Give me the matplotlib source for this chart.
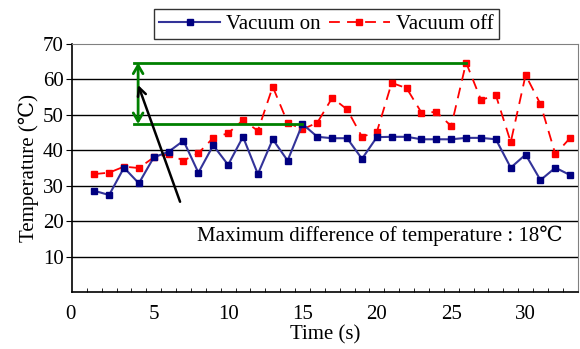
import matplotlib
matplotlib.use("Agg")
import matplotlib.pyplot as plt
import matplotlib.transforms as mtransforms
import numpy as np

plt.rcParams['font.family'] = ['Liberation Serif', 'DejaVu Serif']
plt.rcParams['mathtext.fontset'] = 'stix'

time_s = list(range(1, 34))
vacuum_on = [28.6, 27.4, 35.1, 30.7, 38.0, 39.6, 42.7, 33.7, 41.4, 35.9, 43.8, 33.3,
             43.1, 37.1, 47.4, 43.8, 43.4, 43.4, 37.6, 43.7, 43.8, 43.8, 43.1, 43.1,
             43.1, 43.5, 43.5, 43.1, 35.1, 38.8, 31.6, 35.1, 33.0]
vacuum_off = [33.3, 33.7, 35.4, 35.0, 38.0, 38.9, 37.1, 39.2, 43.5, 44.8, 48.5, 45.5,
              57.9, 47.8, 45.9, 47.8, 54.8, 51.5, 43.8, 45.2, 59.0, 57.5, 50.6, 50.8,
              46.8, 64.7, 54.2, 55.5, 42.3, 61.2, 53.0, 38.9, 43.5]
x_tick_labels = [0, 5, 10, 15, 20, 25, 30]
y_tick_labels = [10, 20, 30, 40, 50, 60, 70]
annotation_text = "Maximum difference of temperature : 18\u2103"

FS = 15

fig = plt.figure(figsize=(5.8, 3.49), dpi=100)
ax = fig.add_axes([0.124, 0.1625, 0.872, 0.712])

ax.set_xlim(-0.5, 33.5)
ax.set_ylim(0, 70)

for v in y_tick_labels[:-1]:
    ax.axhline(v, color='black', lw=1.0, zorder=1)

line_on, = ax.plot(time_s, vacuum_on, color='#333399', lw=1.5, marker='s',
                   markersize=5, markerfacecolor='#000080', markeredgecolor='#000080',
                   zorder=4, label='Vacuum on')
line_off, = ax.plot(time_s, vacuum_off, color='#ff0000', lw=1.3, ls=(0, (6, 4)),
                    marker='s', markersize=5, markerfacecolor='#ff0000',
                    markeredgecolor='#ff0000', zorder=3, label='Vacuum off')

# green guide lines
top_val = max(vacuum_off)
top_idx = vacuum_off.index(top_val)
bot_val = vacuum_on[14]
ax.plot([3.7, time_s[top_idx]], [top_val, top_val], color='#008000', lw=2, zorder=5)
ax.plot([3.7, time_s[14]], [bot_val, bot_val], color='#008000', lw=2, zorder=5)
ax.annotate('', xy=(3.95, top_val), xytext=(3.95, bot_val),
            arrowprops=dict(arrowstyle='<->,head_length=0.6,head_width=0.35',
                            color='#008000', lw=2, shrinkA=0, shrinkB=0), zorder=6)
ax.annotate('', xy=(3.95, 58.4), xytext=(6.77, 25.5),
            arrowprops=dict(arrowstyle='->,head_length=0.6,head_width=0.3',
                            color='black', lw=1.8, shrinkA=0, shrinkB=0), zorder=6)
ax.text(7.9, 15.9, annotation_text, fontsize=FS, va='center', ha='left', zorder=7)

# axes styling
for s in ['top', 'right']:
    ax.spines[s].set_color('#808080')
ax.spines['left'].set_color('black')
ax.spines['bottom'].set_color('black')
ax.spines['left'].set_linewidth(1.2)
ax.spines['bottom'].set_linewidth(1.2)

ax.set_xticks(x_tick_labels)
ax.set_xticklabels([str(v) for v in x_tick_labels], fontsize=FS)
ax.tick_params(axis='x', length=0, pad=9)
ax.set_xticks(np.arange(0.5, 33.5, 1.0), minor=True)
ax.tick_params(axis='x', which='minor', direction='in', length=3, color='black')
# shift the "0" label toward the axis corner as in the reference
lbl0 = ax.get_xticklabels()[0]
lbl0.set_transform(lbl0.get_transform() +
                   mtransforms.ScaledTranslation(-9 / 100, 0, fig.dpi_scale_trans))

ax.set_yticks(y_tick_labels)
ax.set_yticklabels([str(v) for v in y_tick_labels], fontsize=FS)
ax.tick_params(axis='y', length=4, direction='out', pad=2)

ax.set_xlabel('Time (s)', fontsize=FS, labelpad=1)
ax.set_ylabel('Temperature (\u2103)', fontsize=FS, labelpad=3)

leg = fig.legend(handles=[line_on, line_off], loc='center',
                 bbox_to_anchor=(326.5 / 580, 1 - 24 / 349), ncol=2, frameon=True,
                 fancybox=False, edgecolor='black', fontsize=FS, handlelength=2.9,
                 handletextpad=0.3, columnspacing=0.4, borderpad=0.25)
leg.get_frame().set_linewidth(1.0)

fig.savefig('out.png', dpi=100)
